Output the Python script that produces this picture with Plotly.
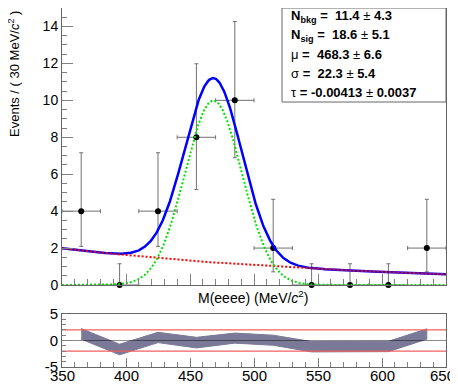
import numpy as np
import plotly.graph_objects as go

# ---------------- data ----------------
bin_centers = [365, 395, 425, 455, 485, 515, 545, 575, 605, 635]
counts = [4, 0, 4, 8, 10, 2, 0, 0, 0, 2]
err_low = [1.91, 0.0, 1.91, 2.83, 3.11, 1.29, 0.0, 0.0, 0.0, 1.29]
err_high = [3.16, 1.15, 3.16, 3.98, 4.27, 2.64, 1.15, 1.15, 1.15, 2.64]
bin_half_width = [15] * 10

pull_hi = [2.25, -0.7, 1.55, 0.6, 1.4, 1.0, -0.2, -0.2, -0.15, 2.2]
pull_lo = [0.25, -2.7, -0.4, -1.4, -0.5, -0.9, -2.15, -2.15, -2.1, 0.25]

# fit parameters (value, error)
n_bkg, n_bkg_err = 11.4, 4.3
n_sig, n_sig_err = 18.6, 5.1
mu, mu_err = 468.3, 6.6
sigma, sigma_err = 22.3, 5.4
tau, tau_err = -0.00413, 0.0037

x_lo, x_hi, bin_w = 350, 650, 30
x_ticks = [350, 400, 450, 500, 550, 600, 650]

# ---------------- model curves from fit parameters ----------------
xs = np.linspace(x_lo, x_hi, 601)
norm_b = (np.exp(tau * x_hi) - np.exp(tau * x_lo)) / tau
bkg = n_bkg * bin_w * np.exp(tau * xs) / norm_b
sig = n_sig * bin_w / (sigma * np.sqrt(2 * np.pi)) * np.exp(-0.5 * ((xs - mu) / sigma) ** 2)
tot = bkg + sig

# ---------------- layout helpers ----------------
# the page body adds an 8px offset; the figure is sized so that it fills the 458x384 window
OFF = 8
W, H = 458 - OFF, 384 - OFF
L, R, T, B = 62 - OFF, 12, 0, 17
pw, ph = W - L - R, H - T - B


def px(xp):  # window pixel -> paper x
    return (xp - OFF - L) / pw


def py(yp):  # window pixel -> paper y
    return (H - B - (yp - OFF)) / ph


main_bottom = 285
pull_top = 314

FONT = "Liberation Sans, Arial, Helvetica, sans-serif"
frame_col = "#666666"
tick_col = "#808080"

fig = go.Figure()

# data points
fig.add_trace(go.Scatter(
    x=bin_centers, y=counts, mode="markers",
    marker=dict(color="black", size=6),
    error_y=dict(type="data", symmetric=False, array=err_high, arrayminus=err_low,
                 color="#707070", thickness=1, width=2),
    error_x=dict(type="data", array=bin_half_width, color="#707070", thickness=1, width=2),
    cliponaxis=False, xaxis="x", yaxis="y", showlegend=False))

# total
fig.add_trace(go.Scatter(x=xs, y=tot, mode="lines", line=dict(color="#0000ff", width=2.5),
                         xaxis="x", yaxis="y", showlegend=False))
# background
fig.add_trace(go.Scatter(x=xs, y=bkg, mode="lines",
                         line=dict(color="#ff0000", width=2, dash="2px,2px"),
                         xaxis="x", yaxis="y", showlegend=False))
# signal
fig.add_trace(go.Scatter(x=xs, y=sig, mode="lines",
                         line=dict(color="#00e000", width=2, dash="2px,2px"),
                         xaxis="x", yaxis="y", showlegend=False))

# pull band
band_x = bin_centers + bin_centers[::-1]
band_y = pull_hi + pull_lo[::-1]
fig.add_trace(go.Scatter(x=band_x, y=band_y, mode="lines", fill="toself",
                         fillcolor="rgb(122,122,152)", line=dict(color="rgb(122,122,152)", width=1),
                         xaxis="x2", yaxis="y2", showlegend=False))
for yv, col in [(2, "#f06060"), (-2, "#f06060"), (0, "rgba(0,0,0,0.45)")]:
    fig.add_trace(go.Scatter(x=[x_lo, x_hi], y=[yv, yv], mode="lines",
                             line=dict(color=col, width=1.2),
                             xaxis="x2", yaxis="y2", showlegend=False))

axis_common = dict(showline=True, linecolor=frame_col, linewidth=1, mirror=True,
                   showgrid=False, zeroline=False, ticks="inside", tickcolor=tick_col,
                   automargin=False,
                   tickfont=dict(family=FONT, size=14, color="black"))

fig.update_layout(
    template="none",
    width=W, height=H,
    margin=dict(l=L, r=R, t=T, b=B, pad=0, autoexpand=False),
    paper_bgcolor="white", plot_bgcolor="white",
    font=dict(family=FONT, color="black"),
    showlegend=False,
    xaxis=dict(domain=[0, 1], anchor="y", range=[x_lo, x_hi], tickvals=x_ticks,
               showticklabels=False, ticklen=11,
               minor=dict(dtick=10, tick0=350, ticklen=6, ticks="inside", tickcolor=tick_col),
               **axis_common),
    yaxis=dict(domain=[py(main_bottom), 1], anchor="x", range=[0, 15], dtick=2, tick0=0,
               ticklen=11,
               minor=dict(dtick=0.5, tick0=0, ticklen=5, ticks="inside", tickcolor=tick_col),
               **axis_common),
    xaxis2=dict(domain=[0, 1], anchor="y2", range=[x_lo, x_hi], tickvals=x_ticks,
                showticklabels=False, ticklen=9,
                minor=dict(dtick=10, tick0=350, ticklen=5, ticks="inside", tickcolor=tick_col),
                **axis_common),
    yaxis2=dict(domain=[0, py(pull_top)], anchor="x2", range=[-5, 5],
                tickvals=[-5, 0, 5], ticktext=["-5", "0", "5"], ticklen=9,
                minor=dict(dtick=1, tick0=0, ticklen=4, ticks="inside", tickcolor=tick_col),
                **{**axis_common, "tickfont": dict(family=FONT, size=15, color="black")}),
)

# x tick labels of the lower panel (placed as text so they sit inside the window like the original)
for v in x_ticks:
    fig.add_annotation(xref="x2", yref="paper", x=v, y=py(375.5),
                       xanchor="center", yanchor="middle", showarrow=False,
                       xshift=-4 if v == x_ticks[-1] else 0, borderpad=0,
                       text=str(v), font=dict(family=FONT, size=15, color="black"))

# parameter box
fig.add_shape(type="rect", xref="paper", yref="paper",
              x0=px(282), x1=1.0, y0=py(102), y1=1.0,
              line=dict(color=frame_col, width=1), fillcolor="white", layer="above")

box_lines = [
    f"<b>N<sub>bkg</sub> =  {n_bkg}</b> ± <b>{n_bkg_err}</b>",
    f"<b>N<sub>sig</sub> =  {n_sig}</b> ± <b>{n_sig_err}</b>",
    f"μ<b> =  {mu}</b> ± <b>{mu_err}</b>",
    f"σ<b> =  {sigma}</b> ± <b>{sigma_err}</b>",
    f"τ<b> = {tau}</b> ± <b>{tau_err}</b>",
]
for i, txt in enumerate(box_lines):
    fig.add_annotation(xref="paper", yref="paper", x=px(289), y=py(16.5 + 19 * i),
                       xanchor="left", yanchor="middle", text=txt, showarrow=False,
                       font=dict(family=FONT, size=13, color="black"))

# axis titles
fig.add_annotation(xref="paper", yref="paper", x=px(253), y=py(297),
                   xanchor="center", yanchor="middle", showarrow=False,
                   text="M(eeee) (MeV/<i>c</i><sup>2</sup>)",
                   font=dict(family=FONT, size=14, color="black"))
fig.add_annotation(xref="paper", yref="paper", x=px(14), y=py(10),
                   xanchor="center", yanchor="top", showarrow=False, textangle=-90,
                   borderpad=0,
                   text="Events / ( 30 MeV/<i>c</i><sup>2</sup> )",
                   font=dict(family=FONT, size=13, color="black"))

fig.write_html("out.html")
